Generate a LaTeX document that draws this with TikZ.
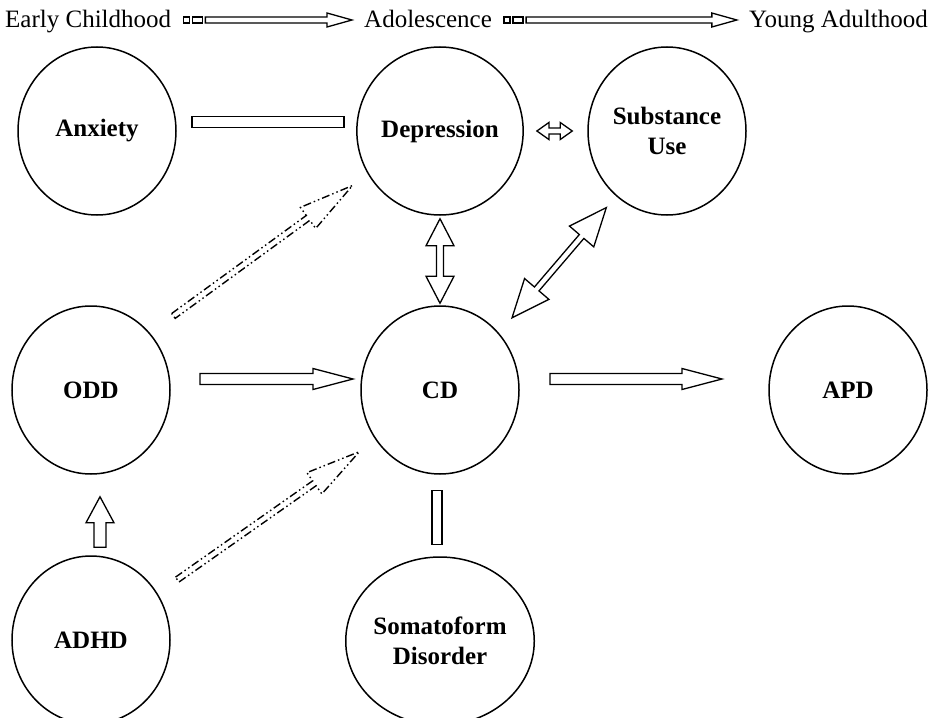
\documentclass[tikz,border=0pt]{standalone}
\usepackage{fontspec}
\setmainfont{Liberation Serif}
\usetikzlibrary{calc,shapes.geometric}

\tikzset{
  disorder/.style={draw, ellipse, line width=1.5pt, minimum width=158pt, minimum height=168pt,
    inner sep=0pt, align=center, font=\fontsize{25}{30}\selectfont\bfseries},
  stage/.style={inner sep=0pt, font=\fontsize{25}{30}\selectfont},
  hollow/.style={line width=1.3pt, line join=miter},
  dashdotdot/.style={hollow, line width=1.4pt, dash pattern=on 8pt off 3pt on 1.5pt off 3pt on 1.5pt off 3pt},
}

% outline arrow: style, from, to, gap at start, gap at end, half shaft, half head, head length
\newcommand{\hollowarrow}[8]{%
  \coordinate (s) at ($(#2)!#4!(#3)$);
  \coordinate (e) at ($(#3)!#5!(#2)$);
  \coordinate (h) at ($(e)!#8!(s)$);
  \draw[#1] ($(s)!#6!90:(e)$) -- ($(h)!#6!90:(e)$) -- ($(h)!#7!90:(e)$) -- (e)
    -- ($(h)!#7!-90:(e)$) -- ($(h)!#6!-90:(e)$) -- ($(s)!#6!-90:(e)$) -- cycle;
}
% same with a head at both ends
\newcommand{\hollowboth}[8]{%
  \coordinate (s) at ($(#2)!#4!(#3)$);
  \coordinate (e) at ($(#3)!#5!(#2)$);
  \coordinate (hs) at ($(s)!#8!(e)$);
  \coordinate (he) at ($(e)!#8!(s)$);
  \draw[#1] (s) -- ($(hs)!#7!90:(e)$) -- ($(hs)!#6!90:(e)$) -- ($(he)!#6!90:(e)$)
    -- ($(he)!#7!90:(e)$) -- (e) -- ($(he)!#7!-90:(e)$) -- ($(he)!#6!-90:(e)$)
    -- ($(hs)!#6!-90:(e)$) -- ($(hs)!#7!-90:(e)$) -- cycle;
}
% plain bar: style, from, to, gap at start, gap at end, half width
\newcommand{\hollowbar}[6]{%
  \coordinate (s) at ($(#2)!#4!(#3)$);
  \coordinate (e) at ($(#3)!#5!(#2)$);
  \draw[#1] ($(s)!#6!90:(e)$) -- ($(e)!#6!-90:(s)$) -- ($(e)!#6!90:(s)$)
    -- ($(s)!#6!-90:(e)$) -- cycle;
}
% arrow between two stage labels
\newcommand{\stagearrow}[2]{%
  \draw[hollow] ($(#1.base east)+(12,-11)$) rectangle ++(6,6);
  \draw[hollow] ($(#1.base east)+(21,-11)$) rectangle ++(10,6);
  \coordinate (a) at ($(#1.base east)+(34,-8)$);
  \coordinate (b) at ($(#2.base west)+(-12,-8)$);
  \hollowarrow{hollow}{a}{b}{0pt}{0pt}{3pt}{7pt}{25pt}
}

\begin{document}
\begin{tikzpicture}[x=1pt, y=-1pt]
  \useasboundingbox (0,0) rectangle (931,717);

  % Stages
  \node[stage, anchor=base west] (early) at (5,28) {Early Childhood};
  \node[stage, anchor=base west] (adol) at (364,28) {Adolescence};
  \node[stage, anchor=base east] (young) at (928,28) {Young Adulthood};
  \stagearrow{early}{adol}
  \stagearrow{adol}{young}

  % Disorders
  \node[disorder] (anx) at (97,131) {Anxiety};
  \node[disorder] (dep) at (440,131) {Depression};
  \node[disorder] (sub) at (667,131) {Substance\\Use};
  \node[disorder] (odd) at (91,390) {ODD};
  \node[disorder] (cd) at (440,390) {CD};
  \node[disorder] (apd) at (848,390) {APD};
  \node[disorder] (adhd) at (91,640) {ADHD};
  \node[disorder] (som) at (440,641) {Somatoform\\Disorder};

  % Links
  \hollowbar{hollow}{[yshift=9pt]anx.center}{[yshift=9pt]dep.center}{95pt}{96pt}{5.5pt}
  \hollowboth{hollow}{dep.east}{sub.west}{13pt}{15pt}{3pt}{8.5pt}{12pt}
  \hollowboth{hollow}{dep.south}{cd.north}{3pt}{2pt}{3.5pt}{14pt}{27pt}
  \hollowboth{hollow}{cd.44}{sub.232}{20pt}{15pt}{3pt}{16pt}{38pt}
  \hollowarrow{hollow}{[yshift=11pt]odd.center}{[yshift=11pt]cd.center}{109pt}{87pt}{5.5pt}{10.5pt}{40pt}
  \hollowarrow{hollow}{[yshift=11pt]cd.center}{[yshift=11pt]apd.center}{110pt}{126pt}{5.5pt}{10.5pt}{40pt}
  \hollowarrow{hollow}{[xshift=9pt]adhd.north}{[xshift=9pt]odd.south}{8pt}{22pt}{6pt}{14pt}{26pt}
  \hollowbar{hollow}{[xshift=-3pt]cd.south}{[xshift=-3pt]som.north}{16pt}{12pt}{5pt}
  \hollowarrow{dashdotdot}{odd.44}{dep.211}{29pt}{19pt}{3pt}{13pt}{55pt}
  \hollowarrow{dashdotdot}{adhd.35}{cd.218}{24pt}{20pt}{3pt}{13pt}{55pt}
\end{tikzpicture}
\end{document}
